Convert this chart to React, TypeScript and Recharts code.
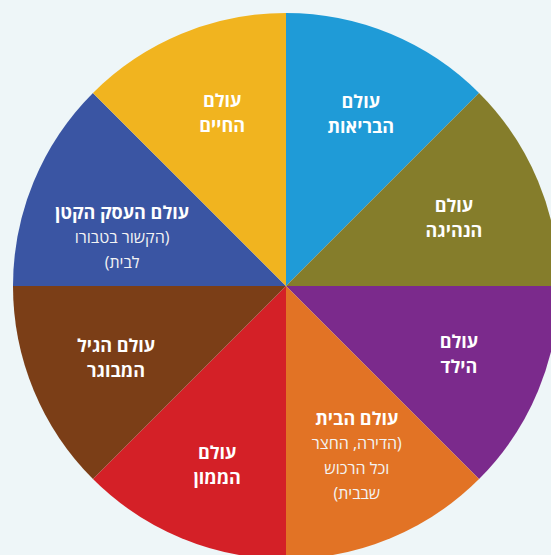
import React from 'react';
import { PieChart, Pie, Cell } from 'recharts';

// eight equal "worlds", clockwise from 12 o'clock
const CATEGORIES = ['הבריאות', 'הנהיגה', 'הילד', 'הבית', 'הממון', 'הגיל המבוגר', 'העסק הקטן', 'החיים'];
const SHARES = [1, 1, 1, 1, 1, 1, 1, 1];
const TITLE_LINES = [
  ['עולם', 'הבריאות'],
  ['עולם', 'הנהיגה'],
  ['עולם', 'הילד'],
  ['עולם הבית'],
  ['עולם', 'הממון'],
  ['עולם הגיל', 'המבוגר'],
  ['עולם העסק הקטן'],
  ['עולם', 'החיים'],
];
const NOTE_LINES = [
  [],
  [],
  [],
  ['(הדירה, החצר', 'וכל הרכוש', 'שבבית)'],
  [],
  [],
  ['(הקשור בטבורו', 'לבית)'],
  [],
];

const COLORS = ['#1f9bd7', '#857d2b', '#7b2a8c', '#e27325', '#d42027', '#7b3e17', '#3a55a3', '#f1b41f'];
const LABEL_NUDGE = [[4, -2], [-3, 2], [2, -3], [0, -1], [2, 8], [1, 1], [7, 22], [7, -3]];

const W = 551;
const H = 555;
const CX = 286;
const CY = 286;
const R = 273;
const LABEL_R = 185;
const LINE_H = 25;
const FONT = "'Open Sans', 'DejaVu Sans', sans-serif";
const RAD = Math.PI / 180;

const data = CATEGORIES.map((name, i) => ({ name, value: SHARES[i] }));

function SliceLabel(props: any) {
  const { cx, cy, midAngle, index } = props;
  const [nx, ny] = LABEL_NUDGE[index];
  const x = cx + LABEL_R * Math.cos(-midAngle * RAD) + nx;
  const y = cy + LABEL_R * Math.sin(-midAngle * RAD) + ny;
  const lines = [
    ...TITLE_LINES[index].map((t) => ({ t, bold: true })),
    ...NOTE_LINES[index].map((t) => ({ t, bold: false })),
  ];
  const top = y - ((lines.length - 1) * LINE_H) / 2;
  return (
    <g>
      {lines.map((l, k) => (
        <text
          key={k}
          x={x}
          y={top + k * LINE_H}
          textAnchor="middle"
          dominantBaseline="central"
          direction="rtl"
          fill={l.bold ? '#ffffff' : '#f3f3f3'}
          fontFamily={FONT}
          fontWeight={l.bold ? 700 : 400}
          fontSize={l.bold ? 18 : 16}
        >
          {l.t}
        </text>
      ))}
    </g>
  );
}

export default function App() {
  return (
    <div style={{ width: W, height: H, background: '#eef6f8', overflow: 'hidden' }}>
      <style>{'body{margin:0}'}</style>
      <PieChart width={W} height={H} margin={{ top: 0, right: 0, bottom: 0, left: 0 }}>
        <Pie
          data={data}
          dataKey="value"
          nameKey="name"
          cx={CX}
          cy={CY}
          outerRadius={R}
          startAngle={90}
          endAngle={-270}
          stroke="none"
          labelLine={false}
          label={SliceLabel}
          isAnimationActive={false}
        >
          {data.map((d, i) => (
            <Cell key={d.name} fill={COLORS[i]} />
          ))}
        </Pie>
      </PieChart>
    </div>
  );
}
